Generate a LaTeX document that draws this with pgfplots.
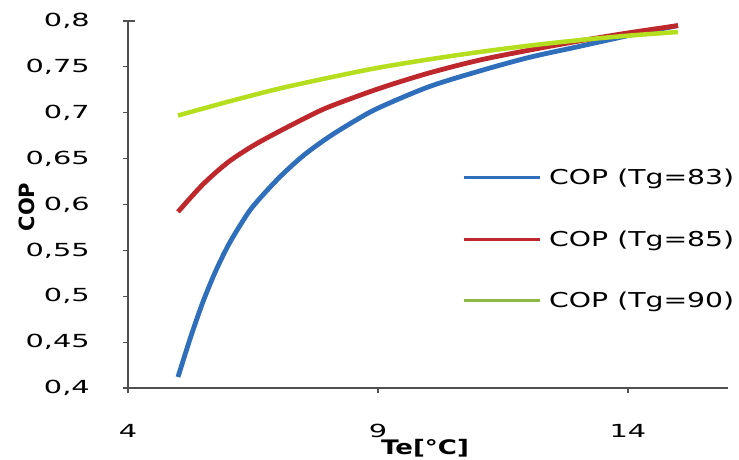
\documentclass[border=0pt]{standalone}
\usepackage{fontspec}
\setmainfont{DejaVu Sans}
\newfontfamily\tickfont[FakeStretch=1.6]{DejaVu Sans}
\newfontfamily\legfont[FakeStretch=1.38]{DejaVu Sans}
\newfontfamily\labfont[FakeStretch=1.3]{DejaVu Sans Bold}
\newfontfamily\ylabfont{DejaVu Sans Bold}
\usepackage{pgfplots}
\pgfplotsset{compat=1.18}
\definecolor{cblue}{RGB}{47,110,186}
\definecolor{cred}{RGB}{190,40,45}
\definecolor{clime}{RGB}{180,222,30}
\definecolor{clegg}{RGB}{140,185,70}
\definecolor{caxis}{RGB}{80,80,80}
\begin{document}
\begin{tikzpicture}
\path[use as bounding box] (-128pt,-71pt) rectangle (611pt,388pt);
\begin{axis}[
  name=ax, at={(0,0)}, anchor=south west,
  scale only axis, width=600pt, height=367pt,
  xmin=4, xmax=16, ymin=0.4, ymax=0.8,
  xtick={4,9,14}, ytick={0.4,0.45,0.5,0.55,0.6,0.65,0.7,0.75,0.8},
  axis lines=left, axis line style={caxis, line width=1.8pt, -},
  tick align=outside, major tick length=5pt,
  tick style={caxis, line width=1.2pt},
  ytick style={shorten >=-7pt},
  /pgf/number format/assume math mode=true,
  /pgf/number format/use comma,
  /pgf/number format/fixed,
  yticklabel={\pgfmathprintnumber{\tick}\hspace*{33pt}},
  yticklabel style={font=\tickfont\fontsize{18}{20}\selectfont, anchor=east, inner sep=0pt},
  xticklabel style={font=\tickfont\fontsize{18}{20}\selectfont, anchor=north, inner sep=0pt, yshift=-31pt},
  xlabel={Te[°C]},
  xlabel style={font=\labfont\fontsize{20}{22}\selectfont, at={(axis description cs:0.495,0)}, anchor=base, yshift=-66pt, inner sep=0pt},
  ylabel={COP},
  ylabel style={font=\ylabfont\fontsize{21}{23}\selectfont, at={(axis description cs:-0.168,0.493)}, anchor=center, rotate=0, inner sep=0pt},
  legend style={at={(axis description cs:0.5567,0.406)}, anchor=west, draw=none, fill=none, inner sep=0pt, row sep=44.5pt, column sep=8pt, font=\legfont\fontsize{20.5}{22}\selectfont, nodes={inner sep=0pt}},
  legend cell align=left,
  legend image code/.code={\draw[#1, line width=3pt] (0pt,0pt) -- (76pt,0pt);},
  clip=false,
]
\addplot[cblue, line width=4.8pt, smooth, forget plot] coordinates {
(5,0.412) (5.25,0.455) (5.5,0.494) (5.75,0.527) (6,0.555) (6.25,0.578) (6.5,0.598) (7,0.628) (7.5,0.653) (8,0.673) (8.5,0.690) (9,0.705) (10,0.728) (11,0.745) (12,0.760) (13,0.772) (14,0.784) (15,0.795)};
\addplot[cred, line width=4.8pt, smooth, forget plot] coordinates {
(5,0.592) (5.5,0.622) (6,0.646) (6.5,0.664) (7,0.679) (7.5,0.693) (8,0.706) (9,0.726) (10,0.743) (11,0.757) (12,0.768) (13,0.778) (14,0.787) (15,0.795)};
\addplot[clime, line width=4.5pt, smooth, forget plot] coordinates {
(5,0.697) (6,0.712) (7,0.726) (8,0.738) (9,0.749) (10,0.758) (11,0.766) (12,0.773) (13,0.779) (14,0.784) (15,0.788)};
\addlegendimage{cblue}
\addlegendentry{COP (Tg=83)}
\addlegendimage{cred}
\addlegendentry{COP (Tg=85)}
\addlegendimage{clegg}
\addlegendentry{COP (Tg=90)}
\end{axis}
\end{tikzpicture}
\end{document}
